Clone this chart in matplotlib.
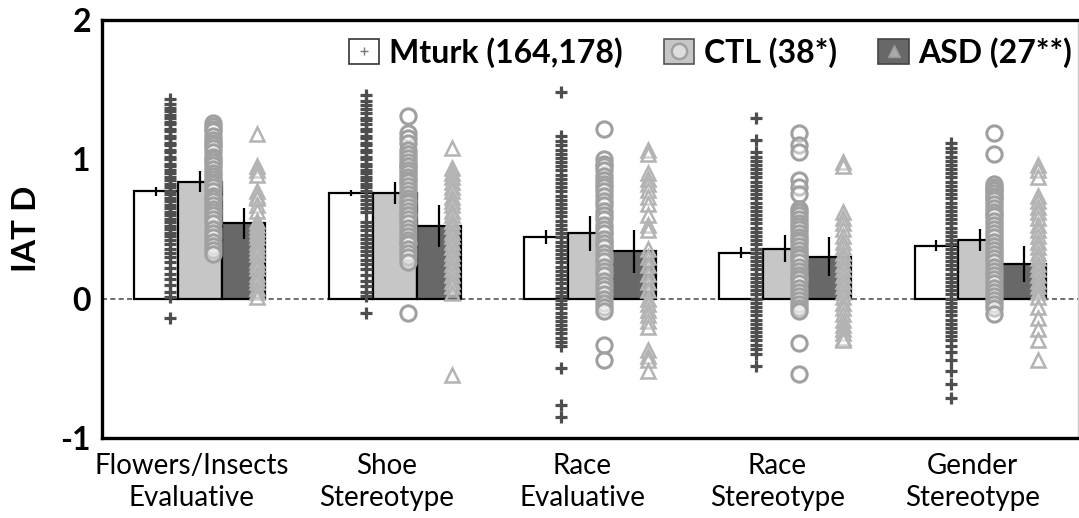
import numpy as np
import matplotlib
matplotlib.use("Agg")
import matplotlib.pyplot as plt
from matplotlib.patches import Patch
from matplotlib.lines import Line2D

plt.rcParams['font.family'] = ['Lato', 'DejaVu Sans']

# --- data ---
categories = ['Flowers/Insects\nEvaluative', 'Shoe\nStereotype', 'Race\nEvaluative',
              'Race\nStereotype', 'Gender\nStereotype']
series = ['Mturk (164,178)', 'CTL (38*)', 'ASD (27**)']

mturk_mean = [0.77, 0.76, 0.44, 0.33, 0.38]
ctl_mean = [0.84, 0.76, 0.47, 0.36, 0.42]
asd_mean = [0.54, 0.52, 0.34, 0.30, 0.25]

mturk_err = [0.03, 0.02, 0.05, 0.04, 0.04]
ctl_err = [0.075, 0.08, 0.125, 0.10, 0.08]
asd_err = [0.11, 0.15, 0.155, 0.14, 0.13]

mturk_points = [
    [1.43, 1.40, 1.37, 1.35, 1.32, 1.30, 1.27, 1.25, 1.22, 1.20, 1.17, 1.15, 1.12, 1.10,
     1.07, 1.05, 1.02, 1.00, 0.97, 0.95, 0.92, 0.90, 0.87, 0.85, 0.82, 0.80, 0.77, 0.75,
     0.72, 0.70, 0.67, 0.65, 0.62, 0.60, 0.57, 0.55, 0.52, 0.50, 0.47, 0.45, 0.42, 0.39,
     0.36, 0.33, 0.30, 0.26, 0.22, 0.18, 0.14, 0.10, 0.05, 0.01, -0.14],
    [1.46, 1.42, 1.39, 1.36, 1.33, 1.30, 1.28, 1.25, 1.22, 1.20, 1.17, 1.15, 1.12, 1.10,
     1.07, 1.05, 1.02, 1.00, 0.97, 0.95, 0.92, 0.90, 0.87, 0.85, 0.82, 0.80, 0.77, 0.74,
     0.71, 0.68, 0.65, 0.62, 0.55, 0.52, 0.49, 0.46, 0.43, 0.40, 0.37, 0.34, 0.31, 0.28,
     0.25, 0.21, 0.17, 0.13, 0.09, 0.05, 0.02, -0.10],
    [1.48, 1.17, 1.13, 1.10, 1.07, 1.04, 1.01, 0.98, 0.95, 0.92, 0.89, 0.86, 0.83, 0.80,
     0.77, 0.74, 0.71, 0.68, 0.65, 0.62, 0.59, 0.56, 0.53, 0.50, 0.47, 0.44, 0.41, 0.38,
     0.35, 0.32, 0.29, 0.26, 0.23, 0.20, 0.17, 0.14, 0.11, 0.08, 0.05, 0.02, -0.01, -0.04,
     -0.07, -0.10, -0.13, -0.16, -0.19, -0.22, -0.25, -0.28, -0.31, -0.34, -0.50, -0.76,
     -0.85],
    [1.30, 1.14, 1.05, 1.02, 0.99, 0.96, 0.93, 0.90, 0.87, 0.84, 0.81, 0.78, 0.75, 0.72,
     0.69, 0.66, 0.63, 0.60, 0.57, 0.54, 0.51, 0.48, 0.45, 0.42, 0.39, 0.36, 0.33, 0.30,
     0.27, 0.24, 0.21, 0.18, 0.15, 0.12, 0.09, 0.06, 0.03, 0.00, -0.03, -0.06, -0.09,
     -0.12, -0.15, -0.18, -0.21, -0.24, -0.27, -0.30, -0.33, -0.36, -0.40, -0.48],
    [1.12, 1.08, 1.05, 1.02, 0.99, 0.96, 0.93, 0.90, 0.87, 0.84, 0.81, 0.78, 0.75, 0.72,
     0.69, 0.66, 0.63, 0.60, 0.57, 0.54, 0.51, 0.48, 0.45, 0.42, 0.39, 0.36, 0.33, 0.30,
     0.27, 0.24, 0.21, 0.18, 0.15, 0.12, 0.09, 0.06, 0.03, 0.00, -0.03, -0.06, -0.09,
     -0.12, -0.15, -0.18, -0.21, -0.24, -0.27, -0.30, -0.34, -0.38, -0.44, -0.52, -0.61,
     -0.71],
]

ctl_points = [
    [1.26, 1.24, 1.22, 1.20, 1.17, 1.14, 1.12, 1.10, 1.08, 1.05, 1.02, 1.00, 0.98, 0.96,
     0.93, 0.90, 0.88, 0.86, 0.84, 0.82, 0.80, 0.77, 0.74, 0.72, 0.70, 0.67, 0.64, 0.62,
     0.60, 0.57, 0.54, 0.50, 0.47, 0.44, 0.41, 0.38, 0.35, 0.32],
    [1.31, 1.19, 1.15, 1.12, 1.07, 1.04, 1.01, 0.98, 0.95, 0.95, 0.92, 0.90, 0.87, 0.85,
     0.84, 0.81, 0.78, 0.75, 0.72, 0.70, 0.69, 0.66, 0.63, 0.60, 0.60, 0.57, 0.54, 0.51,
     0.48, 0.45, 0.42, 0.40, 0.39, 0.36, 0.33, 0.30, 0.26, -0.10],
    [1.22, 1.00, 0.97, 0.95, 0.92, 0.88, 0.85, 0.82, 0.80, 0.77, 0.74, 0.70, 0.67, 0.63,
     0.60, 0.57, 0.53, 0.50, 0.47, 0.43, 0.40, 0.37, 0.33, 0.30, 0.27, 0.23, 0.20, 0.17,
     0.13, 0.10, 0.07, 0.03, 0.00, -0.03, -0.06, -0.09, -0.33, -0.44],
    [1.19, 1.10, 1.05, 0.85, 0.80, 0.75, 0.64, 0.62, 0.60, 0.57, 0.54, 0.52, 0.50, 0.47,
     0.44, 0.42, 0.41, 0.38, 0.35, 0.32, 0.30, 0.29, 0.26, 0.23, 0.20, 0.17, 0.15, 0.14,
     0.11, 0.08, 0.05, 0.02, -0.01, -0.04, -0.07, -0.09, -0.32, -0.54],
    [1.19, 1.04, 0.82, 0.80, 0.79, 0.78, 0.76, 0.74, 0.72, 0.71, 0.68, 0.65, 0.62, 0.60,
     0.59, 0.56, 0.53, 0.50, 0.47, 0.44, 0.41, 0.38, 0.35, 0.32, 0.29, 0.26, 0.23, 0.20,
     0.17, 0.14, 0.11, 0.08, 0.05, 0.02, -0.01, -0.04, -0.07, -0.11],
]

asd_points = [
    [1.18, 0.95, 0.92, 0.89, 0.77, 0.74, 0.72, 0.67, 0.63, 0.56, 0.53, 0.50, 0.47, 0.44,
     0.41, 0.38, 0.35, 0.32, 0.28, 0.25, 0.22, 0.18, 0.15, 0.12, 0.08, 0.05, 0.01],
    [1.08, 0.94, 0.90, 0.87, 0.84, 0.80, 0.77, 0.73, 0.70, 0.67, 0.63, 0.60, 0.56, 0.52,
     0.48, 0.45, 0.41, 0.37, 0.33, 0.29, 0.25, 0.21, 0.17, 0.13, 0.09, 0.04, -0.55],
    [1.07, 1.04, 0.90, 0.86, 0.82, 0.78, 0.73, 0.68, 0.60, 0.53, 0.49, 0.36, 0.30, 0.24,
     0.18, 0.12, 0.06, 0.00, -0.04, -0.08, -0.12, -0.16, -0.20, -0.37, -0.41, -0.44, -0.52],
    [0.98, 0.95, 0.62, 0.58, 0.54, 0.50, 0.45, 0.41, 0.37, 0.33, 0.29, 0.25, 0.21, 0.17,
     0.13, 0.09, 0.05, 0.01, -0.03, -0.07, -0.11, -0.15, -0.19, -0.22, -0.25, -0.28, -0.30],
    [0.96, 0.92, 0.87, 0.74, 0.70, 0.66, 0.62, 0.58, 0.53, 0.49, 0.45, 0.41, 0.37, 0.33,
     0.29, 0.25, 0.21, 0.17, 0.13, 0.09, 0.05, 0.01, -0.06, -0.14, -0.22, -0.30, -0.44],
]

# --- style ---
bar_colors = ['white', '#c6c6c6', '#686868']
bar_offsets = [-0.225, 0.0, 0.225]
pt_offsets = [-0.15, 0.07, 0.295]
bar_w = 0.225

mturk_kw = dict(ls='none', marker='+', ms=8, mew=2.3, color='#4e4e4e')
ctl_kw = dict(ls='none', marker='o', ms=11, mew=2.2, mec='#a0a0a0', mfc=(1, 1, 1, 0.4))
asd_kw = dict(ls='none', marker='^', ms=10.5, mew=1.8, mec='#b3b3b3', mfc=(1, 1, 1, 0.4))

fig = plt.figure(figsize=(10.79, 5.18), dpi=100)
ax = fig.add_axes([102 / 1079, 80 / 518, 976 / 1079, 418 / 518])

x = np.arange(len(categories))
ax.axhline(0, color='#555555', ls=(0, (3, 2)), lw=1.2, zorder=1)

means = [mturk_mean, ctl_mean, asd_mean]
errs = [mturk_err, ctl_err, asd_err]
for i in range(3):
    ax.bar(x + bar_offsets[i], means[i], bar_w, color=bar_colors[i],
           edgecolor='black', linewidth=1.6, zorder=2)

for g in x:
    ax.plot(np.full(len(mturk_points[g]), g + pt_offsets[0]), mturk_points[g], zorder=3, **mturk_kw)
    ax.plot(np.full(len(ctl_points[g]), g + pt_offsets[1]), ctl_points[g], zorder=3, **ctl_kw)
    ax.plot(np.full(len(asd_points[g]), g + pt_offsets[2]), asd_points[g], zorder=3, **asd_kw)

for i in range(3):
    ax.errorbar(x + bar_offsets[i], means[i], yerr=errs[i], fmt='none',
                ecolor='black', elinewidth=1.6, capsize=0, zorder=4)

ax.set_xlim(-0.5, 4.5)
ax.set_ylim(-1, 2)
ax.set_yticks([-1, 0, 1, 2])
ax.set_yticklabels(['-1', '0', '1', '2'], fontsize=23, fontweight='bold')
ax.set_xticks(x - 0.04)
ax.set_xticklabels(categories, fontsize=20, linespacing=1.25)
ax.tick_params(axis='both', length=0)
ax.tick_params(axis='y', pad=8)
ax.tick_params(axis='x', pad=11)
ax.set_ylabel('IAT D', fontsize=24, fontweight='bold')
ax.yaxis.set_label_coords(-0.062, 0.5)

for side in ['left', 'bottom', 'top']:
    ax.spines[side].set_linewidth(2.4)
    ax.spines[side].set_color('black')
ax.spines['right'].set_color('#cccccc')
ax.spines['right'].set_linewidth(1)

handles = [
    (Patch(facecolor=bar_colors[0], edgecolor='#333333', lw=1.2),
     Line2D([], [], ls='none', marker='+', ms=6, mew=1, color='#777777')),
    (Patch(facecolor=bar_colors[1], edgecolor='#555555', lw=1.2),
     Line2D([], [], ls='none', marker='o', ms=11, mew=1.8, mec='#a0a0a0', mfc='#dddddd')),
    (Patch(facecolor=bar_colors[2], edgecolor='#444444', lw=1.2),
     Line2D([], [], ls='none', marker='^', ms=9, mew=1, mec='#999999', mfc='#aaaaaa')),
]
leg = ax.legend(handles, series, loc='center left', bbox_to_anchor=(0.253, 0.923),
                ncol=3, frameon=False, handlelength=0.95, handleheight=0.8,
                handletextpad=0.3, columnspacing=1.3, borderpad=0, borderaxespad=0,
                prop={'size': 23, 'weight': 'bold'})

fig.savefig('out.png', dpi=100)
